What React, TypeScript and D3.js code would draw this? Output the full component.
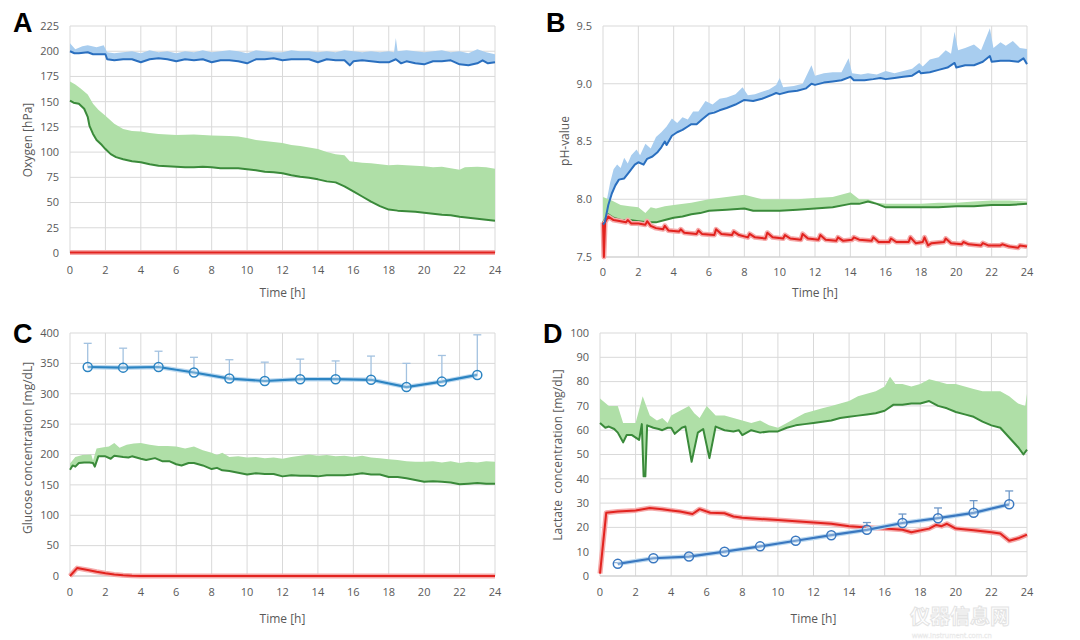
import React from 'react';
import * as d3 from 'd3';

type P = [number, number];

// ---------- tick labels ----------
const timeTicks = [0, 2, 4, 6, 8, 10, 12, 14, 16, 18, 20, 22, 24];
const oxygenTicks = [0, 25, 50, 75, 100, 125, 150, 175, 200, 225];
const phTicks = [7.5, 8.0, 8.5, 9.0, 9.5];
const glucoseTicks = [0, 50, 100, 150, 200, 250, 300, 350, 400];
const lactateTicks = [0, 10, 20, 30, 40, 50, 60, 70, 80, 90, 100];

// ---------- Panel A: Oxygen ----------
const oxyBlueMean: P[] = [[0,200],[0.25,198],[0.5,198],[1,199],[1.3,197],[1.5,197],[2,197],[2.1,192],[2.5,191],[3,192],[3.5,192],[4,189],[4.5,192],[5,193],[5.5,192],[6,190],[6.5,192],[7,191],[7.5,192],[8,189],[8.5,191],[9,191],[9.5,190],[10,188],[10.5,192],[11,192],[11.5,193],[12,191],[12.5,192],[13,192],[13.5,192],[14,189],[14.5,192],[15,191],[15.5,191],[15.8,186],[16,190],[16.5,191],[17,190],[17.5,189],[18,189],[18.4,192],[18.7,188],[19,190],[19.5,188],[20,187],[20.5,190],[21,190],[21.5,191],[22,187],[22.5,186],[23,188],[23.3,191],[23.6,188],[24,189]];
const oxyBlueUpper: P[] = [[0,208],[0.3,202],[0.7,205],[1,206],[1.5,204],[1.9,206],[2.1,199],[2.5,198],[3,199],[3.5,200],[4,198],[4.5,201],[5,199],[5.5,200],[6,198],[6.5,200],[7,199],[7.5,201],[8,199],[8.5,200],[9,201],[9.5,200],[10,198],[10.5,201],[11,200],[11.5,199],[12,199],[12.5,201],[13,200],[13.5,200],[14,199],[14.5,200],[15,199],[15.5,201],[16,200],[16.5,199],[17,200],[17.5,199],[18,200],[18.3,199],[18.4,213],[18.5,200],[19,201],[19.5,200],[20,199],[20.5,200],[21,201],[21.5,199],[22,200],[22.5,198],[23,202],[23.5,199],[24,197]];
const oxyGreenMean: P[] = [[0,151],[0.2,149],[0.5,148],[0.8,143],[1,135],[1.1,126],[1.3,118],[1.5,112],[1.8,107],[2,103],[2.3,98],[2.6,95],[3,93],[3.5,91],[4,90],[4.5,88],[5,86.5],[5.5,86],[6,85.5],[6.5,85],[7,85],[7.5,85.5],[8,85],[8.5,84],[9,84],[9.5,84],[10,83],[10.5,82],[11,80.5],[11.5,80],[12,79],[12.5,77],[13,75.5],[13.5,74.5],[14,73],[14.5,71],[15,70],[15.5,66],[16,61],[16.5,56],[17,51],[17.5,46.5],[18,43],[18.5,42],[19,41.5],[19.5,41],[20,40],[20.5,39],[21,38],[21.5,37.5],[22,36],[22.5,35],[23,34],[23.5,33],[24,32]];
const oxyGreenUpper: P[] = [[0,170],[0.3,167],[0.6,163],[1,157],[1.3,148],[1.6,142],[2,136],[2.5,128],[3,123],[3.5,121],[4,120.5],[4.5,119],[5,118],[6,117],[7,117.5],[8,116.5],[9,116],[9.5,115.5],[10,114],[10.5,112],[11,111],[12,109],[12.5,107],[13,106],[13.5,104.5],[14,103],[14.5,100],[15,98],[15.5,97],[15.8,91],[16.5,89.5],[17,89],[17.5,88],[18,87],[18.5,87.5],[19,87],[19.5,86.5],[20,86],[20.5,85],[21,85.5],[21.5,84],[22,82.5],[22.3,85],[23,85.5],[23.5,85],[24,83.5]];
const oxyRed: P[] = [[0,0.6],[6,0.6],[12,0.6],[18,0.6],[24,0.6]];

// ---------- Panel B: pH ----------
const phBlueMean: P[] = [[0,7.78],[0.1,7.8],[0.3,7.95],[0.5,8.05],[0.7,8.12],[0.9,8.17],[1.2,8.18],[1.5,8.24],[1.8,8.3],[2,8.32],[2.3,8.3],[2.5,8.35],[2.8,8.37],[3.1,8.41],[3.3,8.45],[3.5,8.5],[3.6,8.47],[3.9,8.55],[4.2,8.58],[4.5,8.6],[4.8,8.63],[5,8.65],[5.3,8.65],[5.6,8.69],[6,8.74],[6.3,8.75],[6.6,8.77],[7,8.79],[7.5,8.82],[8,8.86],[8.5,8.85],[9,8.87],[9.5,8.9],[9.8,8.92],[10,8.91],[10.5,8.93],[11,8.94],[11.5,8.96],[11.8,9.0],[12,8.99],[12.5,9.01],[13,9.02],[13.5,9.03],[14,9.06],[14.2,9.03],[14.8,9.03],[15.3,9.04],[15.7,9.05],[16,9.04],[16.5,9.05],[17,9.06],[17.5,9.07],[17.9,9.11],[18,9.09],[18.5,9.1],[19,9.12],[19.5,9.14],[19.9,9.18],[20,9.14],[20.5,9.16],[21,9.16],[21.5,9.19],[21.9,9.24],[22,9.19],[22.5,9.2],[23,9.2],[23.5,9.19],[23.8,9.22],[24,9.17]];
const phBlueUpper: P[] = [[0,7.78],[0.2,7.98],[0.4,8.14],[0.6,8.26],[0.8,8.3],[1,8.27],[1.2,8.36],[1.4,8.31],[1.6,8.38],[1.9,8.43],[2.1,8.38],[2.4,8.48],[2.7,8.44],[3,8.54],[3.3,8.58],[3.6,8.63],[3.9,8.7],[4.2,8.66],[4.5,8.71],[4.8,8.69],[5.1,8.76],[5.4,8.76],[5.8,8.85],[6.2,8.82],[6.6,8.87],[7,8.88],[7.5,8.91],[7.9,8.97],[8.2,8.9],[8.6,8.91],[9,8.93],[9.4,8.95],[9.8,8.99],[10,9.05],[10.2,8.97],[10.8,8.98],[11.3,9.0],[11.8,9.16],[12,9.07],[12.5,9.09],[13,9.1],[13.5,9.1],[13.9,9.22],[14.1,9.09],[14.6,9.08],[15,9.09],[15.5,9.08],[16,9.11],[16.5,9.09],[17,9.11],[17.5,9.13],[17.9,9.18],[18.1,9.15],[18.5,9.21],[19,9.23],[19.4,9.29],[19.7,9.26],[19.9,9.45],[20.1,9.29],[20.5,9.31],[21,9.34],[21.4,9.29],[21.9,9.48],[22.1,9.31],[22.5,9.36],[22.8,9.33],[23.2,9.37],[23.6,9.31],[24,9.3]];
const phGreenMean: P[] = [[0,7.8],[0.3,7.87],[0.6,7.84],[1,7.82],[1.5,7.82],[2,7.81],[2.5,7.8],[3,7.8],[3.5,7.82],[4,7.84],[4.5,7.85],[5,7.87],[5.5,7.88],[6,7.9],[7,7.91],[8,7.92],[8.5,7.9],[9,7.9],[10,7.9],[11,7.91],[12,7.92],[13,7.93],[14,7.96],[14.5,7.96],[15,7.98],[15.5,7.96],[16,7.93],[17,7.93],[18,7.93],[19,7.93],[20,7.94],[21,7.94],[22,7.95],[23,7.95],[24,7.96]];
const phGreenUpper: P[] = [[0,8.02],[0.5,7.99],[1,7.95],[1.5,7.94],[2,7.93],[2.4,7.88],[2.7,7.93],[3,7.92],[3.5,7.94],[4,7.95],[5,7.97],[6,8.0],[7,8.02],[8,8.04],[9,8.0],[10,8.0],[11,8.0],[12,8.01],[13,8.02],[14,8.06],[14.5,8.0],[15,8.0],[15.5,7.97],[16,7.96],[17,7.96],[18,7.96],[19,7.97],[20,7.97],[21,7.98],[22,7.99],[23,7.99],[24,7.98]];
const phRed: P[] = [[0,7.8],[0.05,7.5],[0.12,7.8],[0.3,7.85],[0.6,7.82],[1,7.81],[1.3,7.8],[1.4,7.82],[1.6,7.79],[2,7.79],[2.4,7.78],[2.5,7.81],[2.7,7.77],[3,7.75],[3.4,7.74],[3.5,7.77],[3.7,7.73],[4.3,7.72],[4.4,7.74],[4.6,7.71],[5.3,7.7],[5.4,7.73],[5.6,7.7],[6.3,7.69],[6.4,7.74],[6.7,7.7],[7.3,7.69],[7.4,7.72],[7.7,7.69],[8.2,7.67],[8.3,7.7],[8.6,7.67],[9.2,7.66],[9.3,7.71],[9.6,7.67],[10.2,7.66],[10.3,7.69],[10.6,7.66],[11.2,7.65],[11.3,7.7],[11.6,7.66],[12.2,7.65],[12.3,7.69],[12.6,7.65],[13.2,7.64],[13.3,7.67],[13.6,7.64],[14.1,7.65],[14.2,7.67],[14.5,7.65],[15.2,7.64],[15.3,7.67],[15.6,7.63],[16.2,7.63],[16.3,7.66],[16.6,7.63],[17.3,7.63],[17.4,7.67],[17.7,7.62],[18.1,7.63],[18.2,7.67],[18.4,7.6],[18.6,7.62],[19.3,7.63],[19.4,7.66],[19.7,7.62],[20.3,7.61],[20.4,7.63],[20.7,7.61],[21.4,7.6],[21.5,7.62],[21.8,7.6],[22.5,7.6],[22.6,7.61],[23,7.59],[23.5,7.58],[23.6,7.6],[24,7.59]];

// ---------- Panel C: Glucose ----------
const glcHours = [1, 3, 5, 7, 9, 11, 13, 15, 17, 19, 21, 23];
const glcBlue = [344, 343, 344, 335, 325, 321, 324, 324, 323, 311, 320, 331];
const glcBlueTop = [383, 375, 370, 360, 356, 352, 357, 354, 362, 350, 363, 397];
const glcGreenMean: P[] = [[0,175],[0.15,182],[0.3,180],[0.5,186],[0.8,187],[1.1,187],[1.3,186],[1.4,180],[1.6,197],[2,197],[2.3,193],[2.5,198],[3,196],[3.3,195],[3.5,197],[4,193],[4.3,191],[4.8,194],[5.2,189],[5.6,189],[6,184],[6.3,182],[6.7,186],[7,186],[7.5,182],[8,176],[8.3,178],[8.6,174],[9,173],[9.5,170],[10,167],[10.5,169],[11,168],[11.5,168],[12,164],[12.5,166],[13,165],[13.5,165],[14,164],[14.5,166],[15,166],[15.5,166],[16,167],[16.5,169],[17,167],[17.5,167],[18,163],[18.5,163],[19,161],[19.5,158],[20,155],[20.5,156],[21,155],[21.5,154],[22,151],[22.5,152],[23,153],[23.5,152],[24,152]];
const glcGreenUpper: P[] = [[0,185],[0.3,196],[0.7,199],[1.2,200],[1.3,190],[1.5,210],[1.9,212],[2.2,213],[2.5,219],[2.8,211],[3.2,216],[3.6,218],[4,219],[4.5,216],[5,214],[5.5,214],[6,213],[6.5,210],[7,213],[7.5,207],[8,203],[8.3,199],[8.6,203],[9,196],[9.5,197],[10,195],[10.5,196],[11,194],[11.5,195],[12,193],[12.5,196],[13,198],[13.5,200],[14,198],[14.5,199],[15,197],[15.5,198],[16,196],[16.5,198],[17,195],[17.5,194],[18,192],[18.5,191],[19,189],[19.5,188],[20,188],[20.5,189],[21,187],[21.5,189],[22,186],[22.5,188],[23,187],[23.5,189],[24,188]];
const glcRed: P[] = [[0,0],[0.4,13],[1,10],[1.5,7],[2,4.5],[2.5,2.5],[3,1.2],[3.5,0.5],[4,0.2],[8,0.2],[16,0.2],[24,0.2]];

// ---------- Panel D: Lactate ----------
const lacHours = [1, 3, 5, 7, 9, 11, 13, 15, 17, 19, 21, 23];
const lacBlue = [5, 7.3, 8, 10, 12.2, 14.5, 16.8, 19, 21.8, 23.8, 26, 29.5];
const lacBlueTop = [5.5, 7.6, 9, 10.5, 12.5, 15, 17.5, 22, 25.5, 28, 31, 35];
const lacGreenMean: P[] = [[0,63],[0.3,61],[0.5,61.5],[0.8,60.5],[1,59],[1.3,55],[1.5,58],[1.8,58],[2.2,56],[2.35,62.5],[2.45,41],[2.55,41],[2.65,62],[3,61],[3.3,60.5],[3.5,60],[3.8,61],[4,61],[4.2,58.5],[4.6,61],[4.8,61.5],[5.15,47],[5.5,59],[5.8,60.5],[6.15,48.5],[6.5,61.5],[7,60],[7.5,59.5],[7.8,60],[8,58],[8.5,60],[9,59],[9.5,59.5],[10,59.5],[10.5,61],[11,62],[11.5,62.5],[12,63],[12.5,63.5],[13,64],[13.5,65],[14,65.5],[14.5,66],[15,66.5],[15.5,67],[16,68],[16.5,70.5],[17,70.5],[17.5,71],[18,71],[18.5,72],[19,70],[19.5,69],[20,67.5],[20.5,66.5],[21,65.5],[21.5,63.5],[22,62],[22.5,61],[23,57],[23.5,53],[23.8,50],[24,52]];
const lacGreenUpper: P[] = [[0,73],[0.5,70],[1,70],[1.3,63],[2,63],[2.4,74],[2.6,70],[2.8,66],[3.2,64],[3.5,65],[3.8,63],[4,66],[4.5,68],[5,70],[5.3,67],[5.6,65],[6,70],[6.5,66],[7,66],[7.5,65],[8,64],[8.5,63],[9,64],[9.5,62],[10,61],[10.5,63],[11,65],[11.5,67],[12,68],[12.5,69],[13,70],[13.5,71],[14,72],[14.5,74],[15,75],[15.5,76],[16,78],[16.3,82],[16.6,79],[17,79],[17.5,78],[18,79],[18.5,81],[19,80],[19.5,79],[20,79],[20.5,78],[21,77],[21.5,76],[22,76],[22.5,76],[23,74],[23.5,71],[23.9,70],[24,75]];
const lacRed: P[] = [[0,1],[0.35,26],[1,26.5],[2,27],[2.8,28],[3.5,27.5],[4,27],[4.5,26.5],[5.2,25.5],[5.6,27.5],[6.2,26],[7,25.8],[7.5,24.5],[8,24],[9,23.5],[10,23],[11,22.5],[12,22],[13,21.5],[14,20.5],[15,20],[16,19.5],[17,19],[17.5,18],[18.5,19.5],[18.9,21],[19.2,20.5],[19.5,21.5],[20,19.5],[21,18.8],[22,18],[22.5,17.5],[23,14.5],[23.5,15.5],[24,17]];

// ---------- styles ----------
const FONT = "'Open Sans', 'Liberation Sans', sans-serif";
const COL = {
  blue: '#2a6fbf', blueBand: '#a8cdef', green: '#3a8a3a', greenBand: '#afdfa7',
  red: '#e2231f', redGlow: '#f5aaaa', grid: '#d9d9d9', text: '#595959',
  mBlue: '#2c84c2', err: '#a3c2e0',
};

type Band = { upper: P[]; mean: P[]; fill: string };
type Line = { pts: P[]; color: string; width: number; glow?: string };
type Markers = { xs: number[]; ys: number[]; tops: number[]; color: string; errColor: string };

type PanelProps = {
  left: number; right: number; top: number; bottom: number;
  yDomain: [number, number]; yTicks: number[]; yFmt: (v: number) => string;
  letter: string; letterX: number; letterY: number;
  yTitle: string; yTitleX: number; yTitleY: number;
  xTickY: number; xTitleY: number;
  bands: Band[]; lines: Line[]; markers?: Markers;
};

function Panel(p: PanelProps) {
  const x = d3.scaleLinear().domain([0, 24]).range([p.left, p.right]);
  const y = d3.scaleLinear().domain(p.yDomain).range([p.bottom, p.top]);
  const line = d3.line<P>().x(d => x(d[0])).y(d => y(d[1]));
  const mline = d3.line<number>().x((_, i) => x(p.markers!.xs[i])).y(d => y(d));
  return (
    <g>
      {p.yTicks.map(t => (
        <line key={'h' + t} x1={p.left} x2={p.right} y1={y(t)} y2={y(t)} stroke={COL.grid} strokeWidth={1} />
      ))}
      {timeTicks.map(t => (
        <line key={'v' + t} x1={x(t)} x2={x(t)} y1={p.top} y2={p.bottom} stroke={COL.grid} strokeWidth={1} />
      ))}
      <line x1={p.left} x2={p.right} y1={p.bottom} y2={p.bottom} stroke="#cfcfcf" strokeWidth={1.2} />
      {p.yTicks.map(t => (
        <text key={'yl' + t} x={p.left - 11} y={y(t)} dy="0.35em" textAnchor="end" fontSize={11} fill={COL.text} fontFamily={FONT}>{p.yFmt(t)}</text>
      ))}
      {timeTicks.map(t => (
        <text key={'xl' + t} x={x(t)} y={p.xTickY} textAnchor="middle" fontSize={11} fill={COL.text} fontFamily={FONT}>{t}</text>
      ))}
      <text x={(p.left + p.right) / 2} y={p.xTitleY} textAnchor="middle" fontSize={12} fill={COL.text} fontFamily={FONT}>Time [h]</text>
      <text transform={`translate(${p.yTitleX},${p.yTitleY}) rotate(-90)`} textAnchor="middle" dy="0.35em" fontSize={12} fill={COL.text} fontFamily={FONT} style={{ whiteSpace: 'pre' }}>{p.yTitle}</text>
      <text x={p.letterX} y={p.letterY} fontSize={27} fontWeight="bold" fill="#000" fontFamily="'Liberation Sans', Arial, sans-serif">{p.letter}</text>
      {p.bands.map((b, i) => (
        <path key={'b' + i} d={line([...b.upper, ...b.mean.slice().reverse()]) + 'Z'} fill={b.fill} stroke="none" />
      ))}
      {p.lines.map((l, i) => (
        <g key={'l' + i}>
          {l.glow && <path d={line(l.pts)!} fill="none" stroke={l.glow} strokeWidth={l.width + 3} strokeLinejoin="round" />}
          <path d={line(l.pts)!} fill="none" stroke={l.color} strokeWidth={l.width} strokeLinejoin="round" />
        </g>
      ))}
      {p.markers && (
        <g>
          {p.markers.xs.map((h, i) => (
            <g key={'e' + i}>
              <line x1={x(h)} x2={x(h)} y1={y(p.markers!.ys[i])} y2={y(p.markers!.tops[i])} stroke={p.markers!.errColor} strokeWidth={1.3} />
              <line x1={x(h) - 4} x2={x(h) + 4} y1={y(p.markers!.tops[i])} y2={y(p.markers!.tops[i])} stroke={p.markers!.errColor} strokeWidth={1.3} />
            </g>
          ))}
          <path d={mline(p.markers.ys)!} fill="none" stroke="#bcd9f0" strokeWidth={4.5} />
          <path d={mline(p.markers.ys)!} fill="none" stroke={p.markers.color} strokeWidth={2.2} />
          {p.markers.xs.map((h, i) => (
            <circle key={'c' + i} cx={x(h)} cy={y(p.markers!.ys[i])} r={4.5} fill="rgba(255,255,255,0.3)" stroke={p.markers!.color} strokeWidth={1.5} />
          ))}
        </g>
      )}
    </g>
  );
}

export default function App() {
  return (
    <svg width={1080} height={640} style={{ position: 'absolute', left: 0, top: 0, background: '#fff' }}>
      <rect width={1080} height={640} fill="#fff" />
      <Panel left={70} right={495} top={26} bottom={253}
        yDomain={[0, 225]} yTicks={oxygenTicks} yFmt={v => String(v)}
        letter="A" letterX={13} letterY={32}
        yTitle="Oxygen [hPa]" yTitleX={28} yTitleY={140}
        xTickY={274} xTitleY={297}
        bands={[{ upper: oxyBlueUpper, mean: oxyBlueMean, fill: COL.blueBand }, { upper: oxyGreenUpper, mean: oxyGreenMean, fill: COL.greenBand }]}
        lines={[{ pts: oxyBlueMean, color: COL.blue, width: 2 }, { pts: oxyGreenMean, color: COL.green, width: 2 }, { pts: oxyRed, color: COL.red, width: 2, glow: COL.redGlow }]}
      />
      <Panel left={603} right={1027} top={26} bottom={257}
        yDomain={[7.5, 9.5]} yTicks={phTicks} yFmt={v => v.toFixed(1)}
        letter="B" letterX={546} letterY={32}
        yTitle="pH-value" yTitleX={565} yTitleY={141}
        xTickY={276} xTitleY={297}
        bands={[{ upper: phBlueUpper, mean: phBlueMean, fill: COL.blueBand }, { upper: phGreenUpper, mean: phGreenMean, fill: COL.greenBand }]}
        lines={[{ pts: phGreenMean, color: COL.green, width: 2 }, { pts: phRed, color: COL.red, width: 2, glow: COL.redGlow }, { pts: phBlueMean, color: COL.blue, width: 2 }]}
      />
      <Panel left={70} right={495} top={333} bottom={576}
        yDomain={[0, 400]} yTicks={glucoseTicks} yFmt={v => String(v)}
        letter="C" letterX={13} letterY={343}
        yTitle="Glucose concentration [mg/dL]" yTitleX={28} yTitleY={448}
        xTickY={596} xTitleY={623}
        bands={[{ upper: glcGreenUpper, mean: glcGreenMean, fill: COL.greenBand }]}
        lines={[{ pts: glcGreenMean, color: COL.green, width: 2 }, { pts: glcRed, color: COL.red, width: 2, glow: COL.redGlow }]}
        markers={{ xs: glcHours, ys: glcBlue, tops: glcBlueTop, color: COL.mBlue, errColor: COL.err }}
      />
      <Panel left={600} right={1027} top={333} bottom={576}
        yDomain={[0, 100]} yTicks={lactateTicks} yFmt={v => String(v)}
        letter="D" letterX={543} letterY={343}
        yTitle="Lactate  concentration [mg/dL]" yTitleX={558} yTitleY={455}
        xTickY={596} xTitleY={623}
        bands={[{ upper: lacGreenUpper, mean: lacGreenMean, fill: COL.greenBand }]}
        lines={[{ pts: lacGreenMean, color: COL.green, width: 2 }, { pts: lacRed, color: COL.red, width: 2, glow: COL.redGlow }]}
        markers={{ xs: lacHours, ys: lacBlue, tops: lacBlueTop, color: '#3a78c0', errColor: '#6f98c8' }}
      />
      <g opacity={0.5}>
        <text x={910} y={624} fontSize={20} fontWeight="bold" fill="#ffffff" stroke="#c8c8c8" strokeWidth={1} fontFamily="'Noto Sans CJK SC', sans-serif">仪器信息网</text>
        <text x={912} y={638} fontSize={7} fill="#ffffff" stroke="#d0d0d0" strokeWidth={0.4} fontFamily={FONT}>www.instrument.com.cn</text>
      </g>
    </svg>
  );
}
